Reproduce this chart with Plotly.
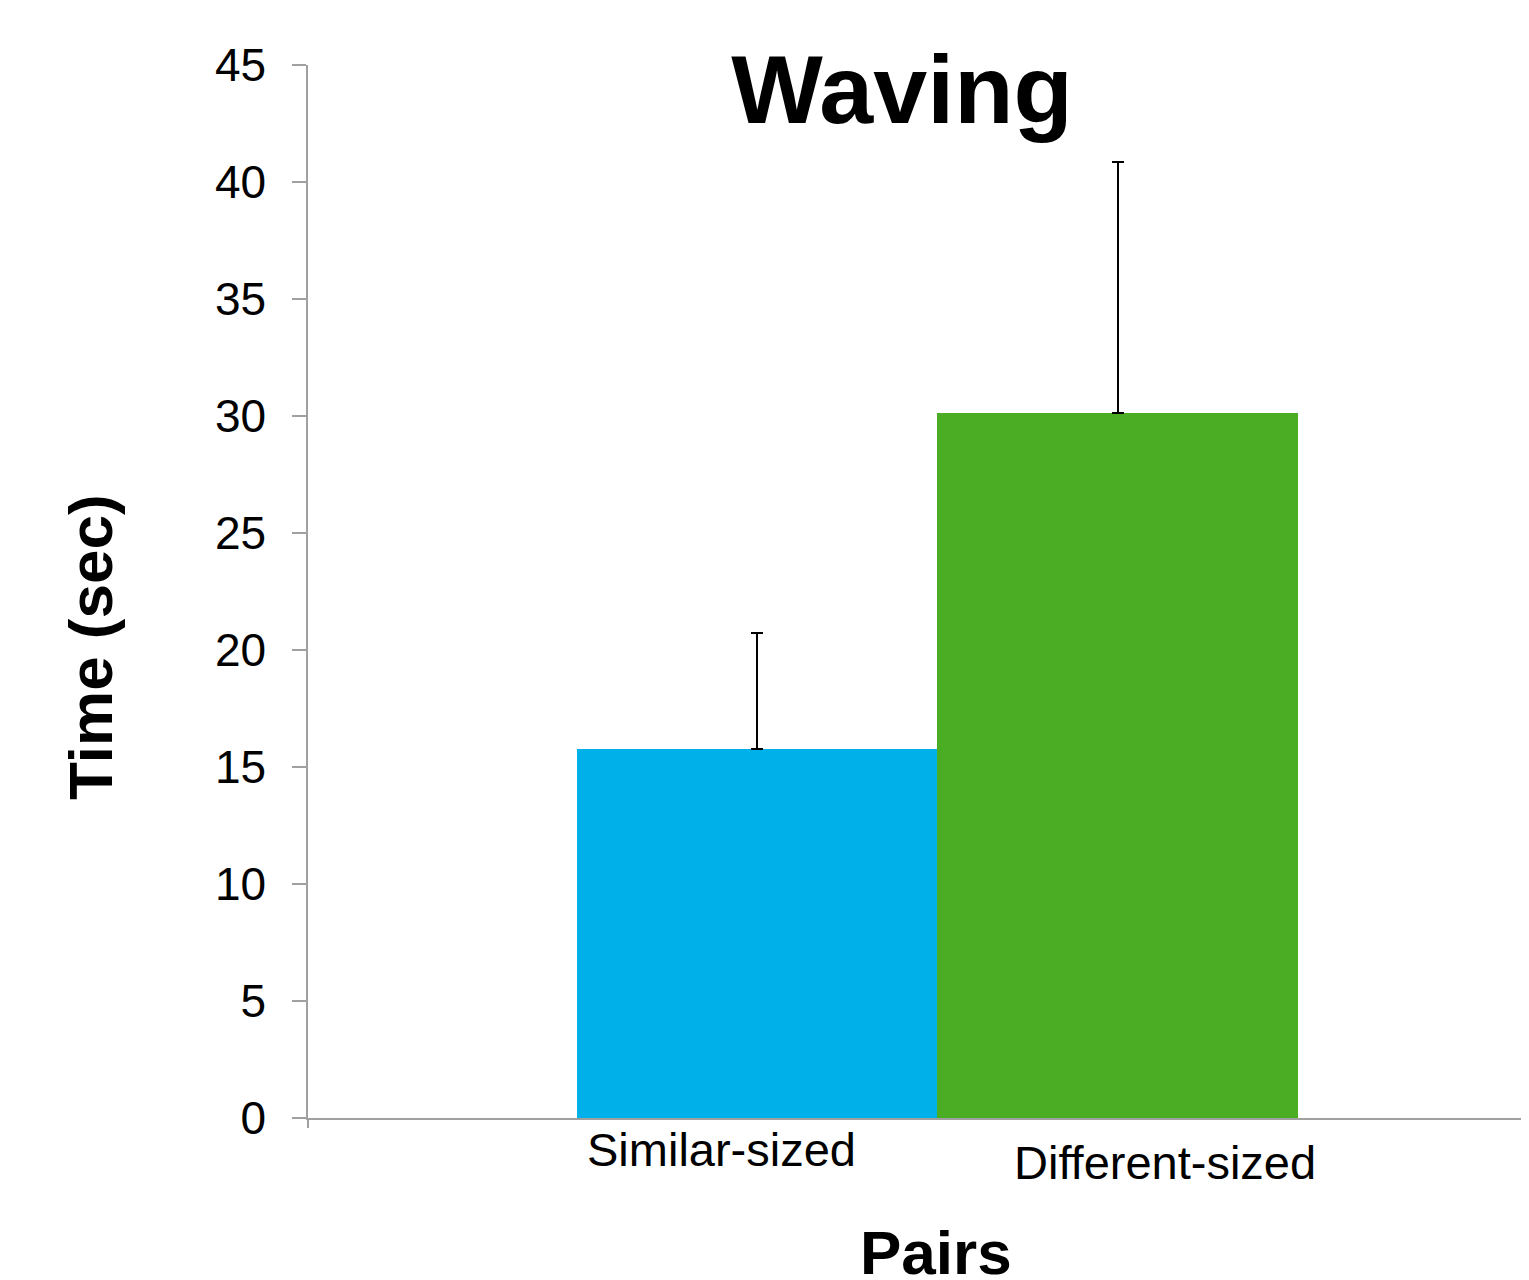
import plotly.graph_objects as go

categories = ["Similar-sized", "Different-sized"]
times = [15.77, 30.13]
errors = [4.95, 10.72]
colors = ["#00B0E9", "#4AAD23"]
y_ticks = [0, 5, 10, 15, 20, 25, 30, 35, 40, 45]

axis_grey = "#A0A0A0"
font_family = "Liberation Sans, Arial, sans-serif"

# page body has an 8px margin, so the figure is 8px smaller than the window
W, H = 1521, 1272
x_range = [-1.244, 2.139]

fig = go.Figure()
fig.add_trace(go.Bar(
    x=categories, y=times,
    marker=dict(color=colors, line=dict(width=0)),
    width=1,
    error_y=dict(type="data", array=errors, arrayminus=[0, 0], symmetric=False,
                 color="black", thickness=1.5, width=6),
    showlegend=False,
))

# category labels sit at slightly different heights in the original
label_pos = [(-0.097, -0.030), (1.13, -0.042)]
for cat, (lx, ly) in zip(categories, label_pos):
    fig.add_annotation(x=lx, y=ly, xref="x", yref="paper", text=cat, showarrow=False,
                       xanchor="center", yanchor="middle",
                       font=dict(size=47, color="black", family=font_family))

fig.add_annotation(x=0.514, y=-0.128, xref="paper", yref="paper",
                   text="<b>Pairs</b>", showarrow=False, xanchor="center", yanchor="middle",
                   font=dict(size=62, color="black", family=font_family))
fig.add_annotation(x=-0.178, y=0.447, xref="paper", yref="paper",
                   text="<b>Time (sec)</b>", showarrow=False, textangle=-90,
                   xanchor="center", yanchor="middle",
                   font=dict(size=62, color="black", family=font_family))

fig.update_layout(
    width=W, height=H,
    margin=dict(l=300, r=0, t=57, b=162),
    paper_bgcolor="white", plot_bgcolor="white",
    bargap=0,
    title=dict(text="<b>Waving</b>", x=894 / W, y=1 - 81 / H,
               xref="container", yref="container", xanchor="center", yanchor="middle",
               font=dict(size=97, color="black", family=font_family)),
    xaxis=dict(type="category", range=x_range, tickmode="array",
               tickvals=[x_range[0]], ticktext=[""],
               showline=True, linecolor=axis_grey, linewidth=1.5, ticks="outside",
               ticklen=8, tickcolor=axis_grey, tickwidth=1.5,
               showgrid=False, zeroline=False),
    yaxis=dict(range=[0, 45], tickvals=y_ticks, showline=True, linecolor=axis_grey,
               linewidth=1.5, ticks="outside", ticklen=14, tickcolor=axis_grey,
               tickwidth=1.5, ticklabelstandoff=17, showgrid=False, zeroline=False,
               tickfont=dict(size=46, color="black", family=font_family)),
)

fig.write_html("out.html")
